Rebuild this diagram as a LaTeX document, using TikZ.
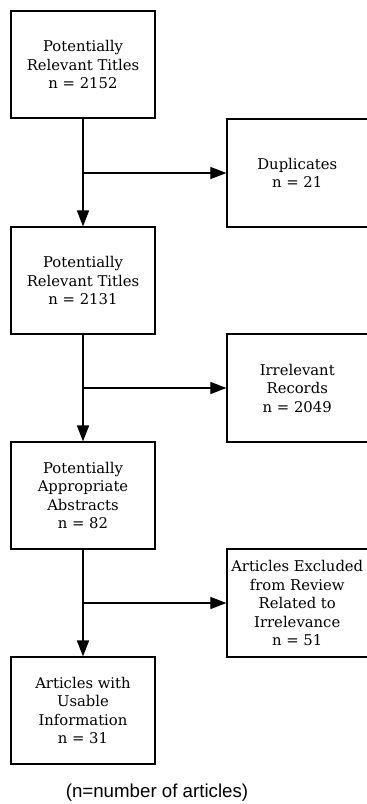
\documentclass[tikz,border=0pt]{standalone}
\usepackage{fontspec}
\setmainfont{DejaVu Serif}
\newfontfamily\capfont{Liberation Sans}
\usetikzlibrary{arrows.meta}
\tikzset{
  box/.style={draw, line width=1.2pt, align=center, inner sep=0pt,
    font=\fontsize{14.8}{18.5}\selectfont},
  leftbox/.style={box, minimum width=144pt, minimum height=107pt},
  rightbox/.style={box, minimum width=140.5pt, minimum height=108pt},
  flow/.style={line width=1.6pt, -{Triangle[length=16pt,width=12pt]}},
  side/.style={line width=1.1pt, -{Triangle[length=16pt,width=12pt]}}
}
\begin{document}
\begin{tikzpicture}[x=1pt,y=-1pt]
\useasboundingbox (0,0) rectangle (367,804);
\node[leftbox] (b1) at (83,64.5) {Potentially\\Relevant Titles\\n = 2152};
\node[leftbox] (b2) at (83,280.5) {Potentially\\Relevant Titles\\n = 2131};
\node[leftbox] (b3) at (83,495.5) {Potentially\\Appropriate\\Abstracts\\n = 82};
\node[leftbox] (b4) at (83,710.5) {Articles with\\Usable\\Information\\n = 31};
\node[rightbox] (r1) at (297.25,173) {Duplicates\\n = 21};
\node[rightbox] (r2) at (297.25,388) {Irrelevant\\Records\\n = 2049};
\node[rightbox] (r3) at (297.25,603) {Articles Excluded\\from Review\\Related to\\Irrelevance\\n = 51};
\node[font=\capfont\fontsize{18.7}{20}\selectfont] (cap) at (157,793) {(n=number of articles)};
\draw[flow] (b1) -- (b2);
\draw[flow] (b2) -- (b3);
\draw[flow] (b3) -- (b4);
\coordinate (j1) at (b1.south |- r1.west);
\coordinate (j2) at (b2.south |- r2.west);
\coordinate (j3) at (b3.south |- r3.west);
\draw[side] (j1) -- (r1.west);
\draw[side] (j2) -- (r2.west);
\draw[side] (j3) -- (r3.west);
\end{tikzpicture}
\end{document}
